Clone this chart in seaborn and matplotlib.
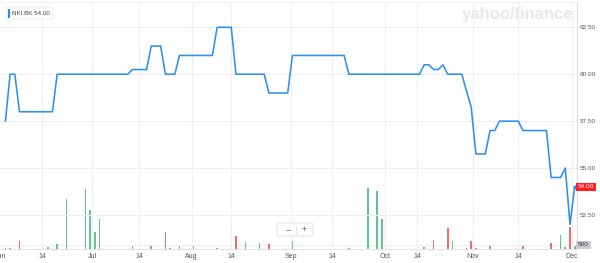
import matplotlib
matplotlib.use("Agg")
import matplotlib.pyplot as plt
import matplotlib.transforms as mtrans
from matplotlib.patches import FancyBboxPatch, Rectangle
import seaborn as sns
import pandas as pd

# ---------------- data ----------------
ticker = "NKI.BK"
last_price = 54.00

# trading-day index of each vertex of the price line, and the close there
day_idx = [0, 1, 2, 3, 10, 11, 26, 27, 30, 31, 33, 34, 36, 37, 44, 45, 48, 49,
           55, 56, 60, 61, 72, 73, 88, 89, 90, 91, 92, 93, 94, 97, 98, 99, 100,
           102, 103, 104, 105, 109, 110, 115, 116, 118, 119, 120, 121]
price = [57.5, 60, 60, 58, 58, 60, 60, 60.25, 60.25, 61.5, 61.5, 60, 60, 61, 61,
         62.5, 62.5, 60, 60, 59, 59, 61, 61, 60, 60, 60.5, 60.5, 60.25, 60.25,
         60.5, 60, 60, 59.1, 58.25, 55.75, 55.75, 57, 57, 57.5, 57.5, 57, 57,
         54.5, 54.5, 55, 52, 54]

# volume bars
vol_idx = [0, 1, 3, 9, 11, 13, 17, 18, 19, 20, 27, 31, 34, 35, 37, 40, 45, 49,
           51, 54, 56, 61, 73, 77, 79, 80, 89, 91, 93, 94, 95, 98, 99, 100, 103,
           105, 110, 116, 118, 119, 120, 121]
volume = [150, 150, 960, 230, 580, 5830, 6960, 4560, 2040, 3510, 380, 380, 1970,
          120, 380, 380, 120, 1540, 810, 750, 580, 930, 120, 7080, 6800, 3480,
          310, 1080, 80, 2520, 960, 150, 930, 120, 430, 80, 430, 730, 1660, 310,
          2550, 430]
vol_dir = ["up", "up", "down", "up", "up", "up", "up", "up", "up", "up", "up",
           "up", "down", "up", "up", "up", "up", "down", "up", "up", "down", "up",
           "down", "up", "up", "up", "up", "down", "up", "down", "up", "down",
           "down", "down", "up", "up", "down", "down", "up", "up", "down", "up"]

price_ticks = [52.5, 55.0, 57.5, 60.0, 62.5]
x_tick_labels = ["Jun", "14", "Jul", "14", "Aug", "14", "Sep", "14", "Oct",
                 "14", "Nov", "14", "Dec"]
x_tick_pos = [-0.95, 7.8, 18.5, 28.5, 39.6, 48.0, 60.6, 69.4, 80.7, 87.5,
              99.3, 109.0, 120.4]
vol_tick = 500

# ---------------- style ----------------
sns.set_style("white")
plt.rcParams["font.family"] = ["Liberation Sans", "DejaVu Sans"]

BLUE = "#2e8ff2"
GREEN = "#52d493"
RED = "#ff5a5a"
GRID = "#efefef"
W, H = 600, 263

fig = plt.figure(figsize=(6.0, 2.63), dpi=100)
fig.patch.set_facecolor("white")

def fx(px):
    return px / W

def fy(py):
    return 1 - py / H

ax_l, ax_r, ax_t, ax_b = 0.0, 576.5, 1.5, 249.3
ax = fig.add_axes([fx(ax_l), fy(ax_b), fx(ax_r) - fx(ax_l), fy(ax_t) - fy(ax_b)])
ax2 = ax.twinx()

# volume bars
vdf = pd.DataFrame({"idx": vol_idx, "vol": volume, "dir": vol_dir})
sns.barplot(data=vdf, x="idx", y="vol", hue="dir",
            palette={"up": GREEN, "down": RED}, native_scale=True,
            dodge=False, width=0.36, errorbar=None, legend=False,
            linewidth=0, ax=ax2)

# price line
pdf = pd.DataFrame({"idx": day_idx, "price": price})
sns.lineplot(data=pdf, x="idx", y="price", color=BLUE, linewidth=1.15, ax=ax)
sns.scatterplot(x=[day_idx[-1]], y=[price[-1]], color=BLUE, s=9,
                edgecolor=BLUE, linewidth=0, ax=ax, zorder=5)

ax.set_zorder(ax2.get_zorder() + 1)
ax.patch.set_visible(False)

# scales
px_per_unit = (215.0 - 27.3) / 10.0
y_top = 62.5 + (27.3 - ax_t) / px_per_unit
y_bot = 62.5 - (ax_b - 27.3) / px_per_unit
ax.set_ylim(y_bot, y_top)
xl = -1.15
xr = 121 + (ax_r - 574.7) / 4.705
vmax = vol_tick * (ax_b - ax_t) / 4.3
ax2.set_ylim(0, vmax)
ax2.set_yticks([])
ax2.set_xlabel("")
ax2.set_ylabel("")
ax2.tick_params(length=0)

# ticks (set after the twin so the shared x axis keeps them)
ax.set_xlim(xl, xr)
ax.yaxis.tick_right()
ax.set_yticks(price_ticks)
ax.set_yticklabels([f"{v:.2f}" for v in price_ticks])
ax.set_xticks(x_tick_pos[1:])
ax.set_xticklabels(x_tick_labels[1:])
ax.tick_params(axis="both", length=0, labelcolor="#555555")
ax.tick_params(axis="y", pad=2.2, labelsize=4.6)
ax.tick_params(axis="x", pad=2.4, labelsize=5.0, labelbottom=True)
ax.set_xlabel("")
ax.set_ylabel("")

ax.grid(True, color=GRID, linewidth=0.8)
ax2.axhline(vol_tick, color=GRID, linewidth=0.8, zorder=0)

ax.spines["left"].set_visible(False)
ax.spines["right"].set_color("#dddddd")
ax.spines["right"].set_linewidth(0.8)
ax.spines["bottom"].set_color("#e2e2e2")
ax.spines["bottom"].set_linewidth(0.8)
ax.spines["top"].set_color("#f0f0f0")
ax.spines["top"].set_linewidth(0.8)
for s in ax2.spines.values():
    s.set_visible(False)

# clipped "Jun" label at far left
blend = mtrans.blended_transform_factory(ax.transData, ax.transAxes)
ax.text(x_tick_pos[0], -(256.7 - ax_b) / (ax_b - ax_t), x_tick_labels[0],
        transform=blend, ha="center", va="center", fontsize=5.0,
        color="#555555", clip_on=False)

# right-side price tag and volume tag
fig.text(fx(586.2), fy(187.0), f"{last_price:.2f}", ha="center", va="center",
         fontsize=4.6, color="white",
         bbox=dict(boxstyle="square,pad=0.28", facecolor="#ff1f1f",
                   edgecolor="none"))
fig.text(fx(583.5), fy(245.0), f"{vol_tick}", ha="center", va="center",
         fontsize=4.6, color="#333333",
         bbox=dict(boxstyle="square,pad=0.3", facecolor="#c9cdd2",
                   edgecolor="none"))

# legend chip top-left
fig.patches.append(FancyBboxPatch((fx(7), fy(19)), fx(46), 12 / H,
                                  boxstyle="round,pad=0,rounding_size=0.004",
                                  transform=fig.transFigure, facecolor="white",
                                  edgecolor="#e8e8e8", linewidth=0.6,
                                  zorder=10))
fig.patches.append(Rectangle((fx(8), fy(18)), fx(2), 9 / H,
                             transform=fig.transFigure, facecolor=BLUE,
                             edgecolor="none", zorder=11))
fig.text(fx(12.5), fy(13.2), f"{ticker} {last_price:.2f}", ha="left",
         va="center", fontsize=4.5, color="#444444", zorder=12)

# watermark
fig.text(fx(573), fy(14), "yahoo/finance", ha="right", va="center",
         fontsize=12, fontweight="bold", color="#e8e8e8", zorder=0)

# zoom control
fig.patches.append(FancyBboxPatch((fx(277), fy(236)), fx(36), 13 / H,
                                  boxstyle="round,pad=0,rounding_size=0.004",
                                  transform=fig.transFigure, facecolor="white",
                                  edgecolor="#dedede", linewidth=0.6,
                                  zorder=10))
fig.text(fx(288), fy(229.5), "\u2212", ha="center", va="center", fontsize=6.5,
         color="#666666", zorder=12)
fig.text(fx(304), fy(229.5), "+", ha="center", va="center", fontsize=6.5,
         color="#666666", zorder=12)
fig.lines.append(plt.Line2D([fx(295.5), fx(295.5)], [fy(233), fy(226)],
                            transform=fig.transFigure, color="#dddddd",
                            linewidth=0.6, zorder=12))

fig.savefig("out.png", dpi=100, facecolor="white")
